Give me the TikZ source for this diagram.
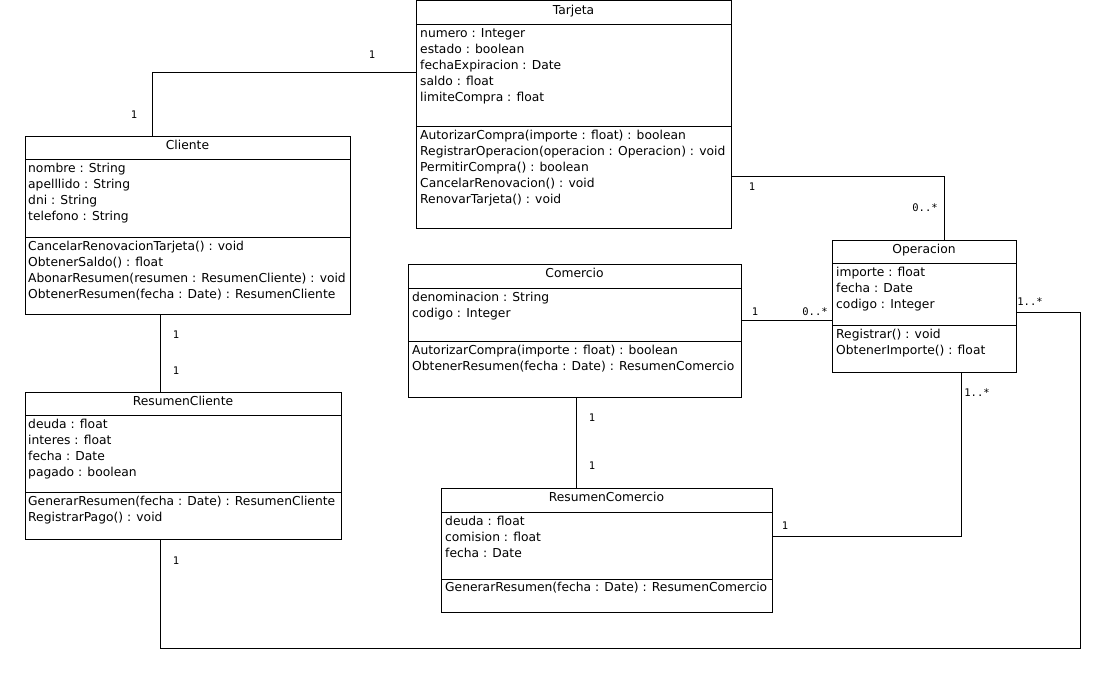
\documentclass[tikz,border=0pt]{standalone}
\usepackage{fontspec}
\setmainfont{DejaVu Sans}
\setmonofont{DejaVu Sans Mono}
\usetikzlibrary{positioning}

\tikzset{
	classbox/.style = {draw, thick, rectangle, anchor = north west, inner sep = 0pt},
	classname/.style = {anchor = base, inner sep = 0pt, font = \fontsize{12.3}{14}\selectfont},
	member/.style = {anchor = base west, inner sep = 0pt, font = \fontsize{12.3}{14}\selectfont},
	mult/.style = {inner sep = 0pt, font = \ttfamily\fontsize{10.5}{12}\selectfont},
	assoc/.style = {thick}
}

\begin{document}
\begin{tikzpicture}[x = 1pt, y = -1pt]
	\useasboundingbox (0,0) rectangle (1104,696);
	
	% Tarjeta
	\node[classbox, minimum width = 315, minimum height = 228] (tarjeta) at (416,0) {};
	\draw[thick] (416,24) -- (731,24);
	\draw[thick] (416,126) -- (731,126);
	\node[classname] (tarjeta-t) at (573.5,14) {Tarjeta};
	\foreach \t [count = \i from 0] in {{numero : Integer}, {estado : boolean}, {fechaExpiracion : Date}, {saldo : float}, {limiteCompra : float}}
		\node[member] (tarjeta-a\i) at (420, 37+16*\i) {\t};
	\foreach \t [count = \i from 0] in {{AutorizarCompra(importe : float) : boolean}, {RegistrarOperacion(operacion : Operacion) : void}, {PermitirCompra() : boolean}, {CancelarRenovacion() : void}, {RenovarTarjeta() : void}}
		\node[member] (tarjeta-m\i) at (420, 139+16*\i) {\t};
	
	% Cliente
	\node[classbox, minimum width = 325, minimum height = 178] (cliente) at (25,136) {};
	\draw[thick] (25,159) -- (350,159);
	\draw[thick] (25,237) -- (350,237);
	\node[classname] (cliente-t) at (187.5,149) {Cliente};
	\foreach \t [count = \i from 0] in {{nombre : String}, {apelllido : String}, {dni : String}, {telefono : String}}
		\node[member] (cliente-a\i) at (28, 172+16*\i) {\t};
	\foreach \t [count = \i from 0] in {{CancelarRenovacionTarjeta() : void}, {ObtenerSaldo() : float}, {AbonarResumen(resumen : ResumenCliente) : void}, {ObtenerResumen(fecha : Date) : ResumenCliente}}
		\node[member] (cliente-m\i) at (28, 250+16*\i) {\t};
	
	% ResumenCliente
	\node[classbox, minimum width = 316, minimum height = 147] (resumencliente) at (25,392) {};
	\draw[thick] (25,415) -- (341,415);
	\draw[thick] (25,492) -- (341,492);
	\node[classname] (resumencliente-t) at (183,405) {ResumenCliente};
	\foreach \t [count = \i from 0] in {{deuda : float}, {interes : float}, {fecha : Date}, {pagado : boolean}}
		\node[member] (resumencliente-a\i) at (28, 428+16*\i) {\t};
	\foreach \t [count = \i from 0] in {{GenerarResumen(fecha : Date) : ResumenCliente}, {RegistrarPago() : void}}
		\node[member] (resumencliente-m\i) at (28, 505+16*\i) {\t};
	
	% Comercio
	\node[classbox, minimum width = 333, minimum height = 133] (comercio) at (408,264) {};
	\draw[thick] (408,288) -- (741,288);
	\draw[thick] (408,341) -- (741,341);
	\node[classname] (comercio-t) at (574.5,277) {Comercio};
	\foreach \t [count = \i from 0] in {{denominacion : String}, {codigo : Integer}}
		\node[member] (comercio-a\i) at (412, 301+16*\i) {\t};
	\foreach \t [count = \i from 0] in {{AutorizarCompra(importe : float) : boolean}, {ObtenerResumen(fecha : Date) : ResumenComercio}}
		\node[member] (comercio-m\i) at (412, 354+16*\i) {\t};
	
	% Operacion
	\node[classbox, minimum width = 184, minimum height = 132] (operacion) at (832,240) {};
	\draw[thick] (832,263) -- (1016,263);
	\draw[thick] (832,325) -- (1016,325);
	\node[classname] (operacion-t) at (924,253) {Operacion};
	\foreach \t [count = \i from 0] in {{importe : float}, {fecha : Date}, {codigo : Integer}}
		\node[member] (operacion-a\i) at (836, 276+16*\i) {\t};
	\foreach \t [count = \i from 0] in {{Registrar() : void}, {ObtenerImporte() : float}}
		\node[member] (operacion-m\i) at (836, 338+16*\i) {\t};
	
	% ResumenComercio
	\node[classbox, minimum width = 331, minimum height = 124] (resumencomercio) at (441,488) {};
	\draw[thick] (441,512) -- (772,512);
	\draw[thick] (441,579) -- (772,579);
	\node[classname] (resumencomercio-t) at (606.5,501) {ResumenComercio};
	\foreach \t [count = \i from 0] in {{deuda : float}, {comision : float}, {fecha : Date}}
		\node[member] (resumencomercio-a\i) at (445, 525+16*\i) {\t};
	\node[member] (resumencomercio-m0) at (445, 591) {GenerarResumen(fecha : Date) : ResumenComercio};
	
	% associations
	\coordinate (esquina) at (1080,648);
	\draw[assoc] ([yshift = -72]tarjeta.north west) -| ([xshift = 127]cliente.north west);
	\draw[assoc] ([yshift = -176]tarjeta.north east) -| ([xshift = 112]operacion.north west);
	\draw[assoc] ([xshift = 135]cliente.south west) -- ([xshift = 135]resumencliente.north west);
	\draw[assoc] ([yshift = -56]comercio.north east) -- ([yshift = -80]operacion.north west);
	\draw[assoc] ([xshift = 168]comercio.south west) -- ([xshift = 135]resumencomercio.north west);
	\draw[assoc] ([xshift = 129]operacion.south west) |- ([yshift = -48]resumencomercio.north east);
	\draw[assoc] ([yshift = -72]operacion.north east) -| (esquina) -| ([xshift = 135]resumencliente.south west);
	
	% multiplicities
	\node[mult] (m1) at (372,55) {1};
	\node[mult] (m2) at (134,115) {1};
	\node[mult] (m3) at (752,187) {1};
	\node[mult] (m4) at (925,208) {0..*};
	\node[mult] (m5) at (176,335) {1};
	\node[mult] (m6) at (176,371) {1};
	\node[mult] (m7) at (755,312) {1};
	\node[mult] (m8) at (815,312) {0..*};
	\node[mult] (m9) at (592,418) {1};
	\node[mult] (m10) at (592,466) {1};
	\node[mult] (m11) at (977,393) {1..*};
	\node[mult] (m12) at (785,526) {1};
	\node[mult] (m13) at (1030,302) {1..*};
	\node[mult] (m14) at (176,561) {1};
\end{tikzpicture}
\end{document}
